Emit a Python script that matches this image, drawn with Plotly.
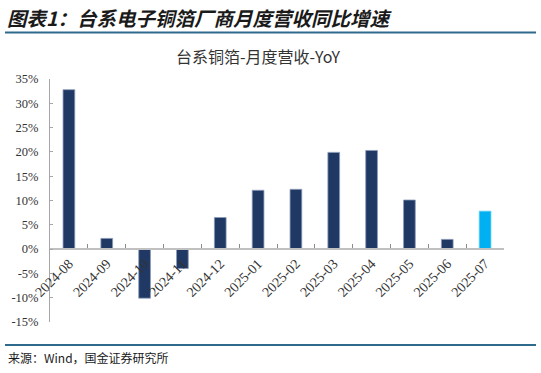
import plotly.graph_objects as go

categories = ["2024-08", "2024-09", "2024-10", "2024-11", "2024-12", "2025-01",
              "2025-02", "2025-03", "2025-04", "2025-05", "2025-06", "2025-07"]
yoy_pct = [32.8, 2.2, -10.1, -4.0, 6.5, 12.1, 12.3, 19.9, 20.3, 10.1, 2.0, 7.8]
y_ticks = [-15, -10, -5, 0, 5, 10, 15, 20, 25, 30, 35]
y_tick_labels = [f"{v}%" for v in y_ticks]

W, H = 541, 373
L, R, T, B = 50, 37, 79, 51
PW, PH = W - L - R, H - T - B


def px_x(x):
    return (x - L) / PW


def px_y(y):
    return (H - B - y) / PH


navy = "#1F3864"
cyan = "#00B0F0"
colors = [navy] * (len(categories) - 1) + [cyan]
line_colors = ["#8a9ab8"] * (len(categories) - 1) + ["#5fd0f5"]

fig = go.Figure()
fig.add_trace(go.Bar(
    x=categories, y=yoy_pct,
    marker=dict(color=colors, line=dict(color=line_colors, width=0.8)),
    width=0.31,
    hoverinfo="skip",
))

ymin, ymax = -15, 35
fig.update_layout(
    width=W, height=H,
    margin=dict(l=L, r=R, t=T, b=B, autoexpand=False),
    paper_bgcolor="white", plot_bgcolor="white",
    showlegend=False,
    title=dict(
        text="台系铜箔-月度营收-YoY",
        x=px_x(258), xref="paper", xanchor="center",
        y=1 - 57 / H, yref="container", yanchor="middle",
        font=dict(family="Noto Sans CJK SC", size=16, color="#333333"),
    ),
    xaxis=dict(
        type="category",
        anchor="free",
        position=(0 - ymin) / (ymax - ymin),
        automargin=False,
        showline=True, linecolor="#c0c0c0", linewidth=2,
        ticks="inside", ticklen=4, tickcolor="#8c8c8c", tickwidth=1,
        tickson="boundaries",
        tickangle=-45,
        tickfont=dict(family="Liberation Serif", size=14, color="#333333"),
        showgrid=False, zeroline=False,
    ),
    yaxis=dict(
        range=[ymin, ymax],
        automargin=False,
        tickvals=y_ticks, ticktext=y_tick_labels,
        showline=True, linecolor="#a6a6a6", linewidth=1,
        ticks="inside", ticklen=3, tickcolor="#a6a6a6",
        ticklabelstandoff=8,
        tickfont=dict(family="Liberation Serif", size=12.5, color="#333333"),
        showgrid=False, zeroline=False,
    ),
    shapes=[
        dict(type="line", xref="paper", yref="paper",
             x0=px_x(5), x1=px_x(536), y0=px_y(32.5), y1=px_y(32.5),
             line=dict(color="#2E6A8C", width=2)),
        dict(type="line", xref="paper", yref="paper",
             x0=px_x(5), x1=px_x(536), y0=px_y(345), y1=px_y(345),
             line=dict(color="#2E6A8C", width=2)),
    ],
    annotations=[
        dict(text="<b><i>图表1：台系电子铜箔厂商月度营收同比增速</i></b>",
             xref="paper", yref="paper", x=px_x(6), y=px_y(18),
             xanchor="left", yanchor="middle", showarrow=False, borderpad=0,
             font=dict(family="Noto Sans CJK SC", size=19.5, color="#1a1a1a")),
        dict(text="来源：Wind，国金证券研究所",
             xref="paper", yref="paper", x=px_x(6), y=px_y(357),
             xanchor="left", yanchor="middle", showarrow=False,
             font=dict(family="Noto Sans CJK SC", size=12, color="#1a1a1a")),
    ],
)

fig.write_html("out.html", config={"displayModeBar": False},
               post_script="document.body.style.margin='0';")
